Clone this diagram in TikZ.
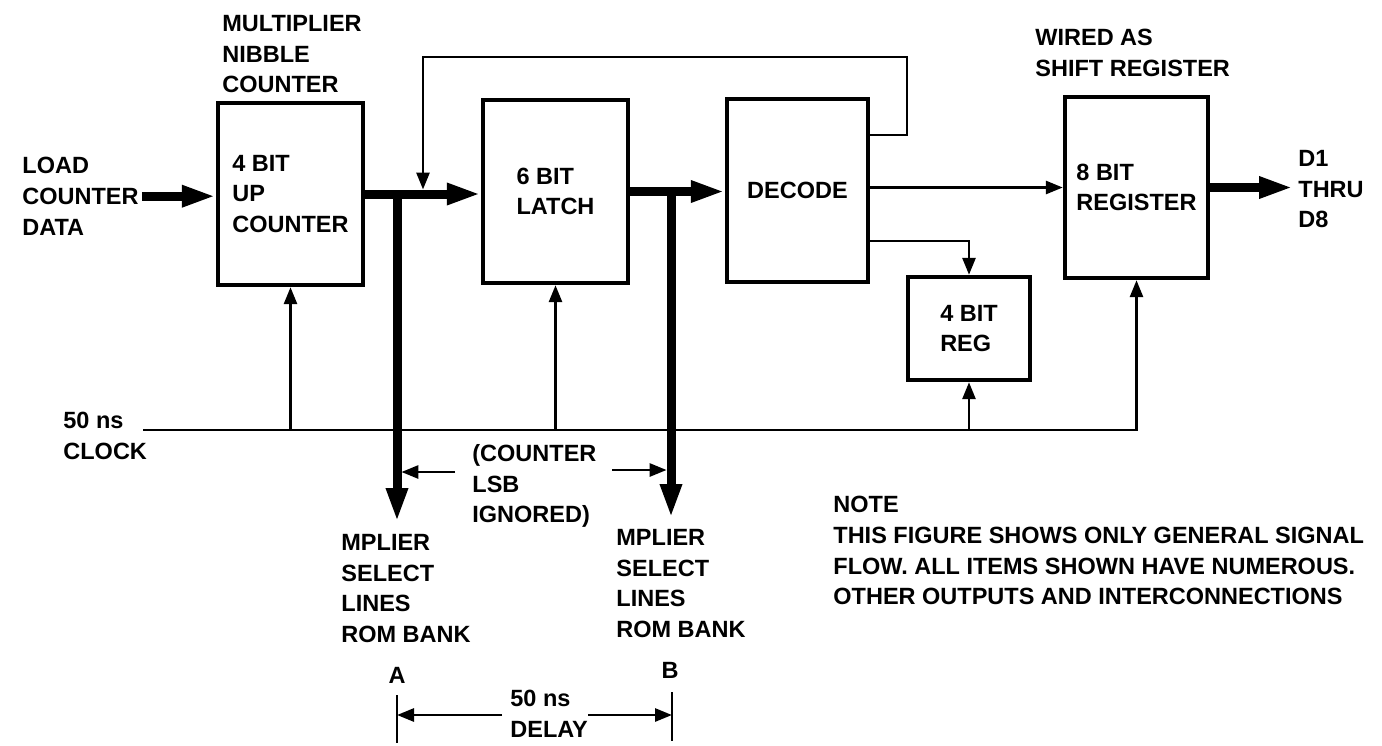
\documentclass[tikz,border=0pt]{standalone}
\usepackage{fontspec}
\setmainfont{Liberation Sans}
\usetikzlibrary{arrows.meta}
\newcommand\lblfont{\fontsize{11.75pt}{15.3pt}\selectfont\bfseries}
\tikzset{
  txt/.style={font=\lblfont, align=left, inner sep=0pt, anchor=north west},
  lbl/.style={font=\lblfont, inner sep=0pt},
  blockbox/.style={draw, line width=2.2pt, inner sep=0pt, align=left, font=\lblfont},
  sig/.style={line width=1.4pt},
  bus/.style={line width=4.5pt},
  sigtip/.style={-{Triangle[length=8.5pt,width=6.5pt]}},
  bustip/.style={-{Triangle[length=17pt,width=10pt]}},
}
\begin{document}
\begin{tikzpicture}[x=0.5pt,y=-0.5pt]
\fill[white] (0,0) rectangle (1382,745);
\useasboundingbox (0,0) rectangle (1382,745);

% blocks
\node[blockbox, minimum width=72.5pt, minimum height=91pt] (b1) at (290.5,194) {4 BIT\\UP\\COUNTER};
\node[blockbox, minimum width=72.5pt, minimum height=91.5pt] (b2) at (555.5,191.5) {6 BIT\\LATCH};
\node[blockbox, minimum width=70.5pt, minimum height=91.5pt] (dec) at (797.5,190.5) {DECODE};
\node[blockbox, minimum width=61pt, minimum height=51.5pt] (r4) at (969,328.5) {4 BIT\\REG};
\node[blockbox, minimum width=71.5pt, minimum height=90.5pt] (r8) at (1136.5,187.5) {8 BIT\\REGISTER};

% labels
\node[txt] (mult) at (222,15) {MULTIPLIER\\NIBBLE\\COUNTER};
\node[txt] (load) at (22,157) {LOAD\\COUNTER\\DATA};
\node[txt] (clk) at (63,412) {50 ns\\CLOCK};
\node[txt] (wired) at (1035,29) {WIRED AS\\SHIFT REGISTER};
\node[txt] (dout) at (1298,150) {D1\\THRU\\D8};
\node[txt] (lsb) at (472,444) {(COUNTER\\LSB\\IGNORED)};
\node[txt] (selA) at (341,534) {MPLIER\\SELECT\\LINES\\ROM BANK};
\node[txt] (selB) at (616,529) {MPLIER\\SELECT\\LINES\\ROM BANK};
\node[lbl] (lblA) at (397,675) {A};
\node[lbl] (lblB) at (670,670) {B};
\node[txt] (delay) at (510,690) {50 ns\\DELAY};
\node[txt] (note) at (833,496) {NOTE\\THIS FIGURE SHOWS ONLY GENERAL SIGNAL\\FLOW. ALL ITEMS SHOWN HAVE NUMEROUS.\\OTHER OUTPUTS AND INTERCONNECTIONS};

% coordinates
\coordinate (tapA) at (397,194);
\coordinate (outA) at (397,522);
\coordinate (tapB) at (671,191.5);
\coordinate (outB) at (671,518);
\coordinate (fbR) at (907,135);
\coordinate (fbT) at (907,57);
\coordinate (fbL) at (423,57);
\coordinate (fbIn) at (423,189.5);
\coordinate (d4) at (969,241);
\coordinate (clkL) at (143,430);
\coordinate (dtip) at (1293,185);
\coordinate (lsbL) at (455,472);
\coordinate (lsbR) at (612,470);
\coordinate (dA1) at (397,695);
\coordinate (dA2) at (397,743);
\coordinate (dB1) at (672,692);
\coordinate (dB2) at (672,741);
\coordinate (dimL) at (502,715);
\coordinate (dimR) at (588,715);

% buses
\draw[bus, bustip] ([xshift=1.5pt]load.east) -- (load.east -| b1.west);
\draw[bus, bustip] (b1.east) -- (b1.east -| b2.west);
\draw[bus, bustip] (tapA) -- (outA);
\draw[bus, bustip] (b2.east) -- (b2.east -| dec.west);
\draw[bus, bustip] (tapB) -- (outB);
\draw[bus, bustip] (r8.east) -- (r8.east -| dtip);

% signals
\draw[sig, sigtip] (fbR -| dec.east) -- (fbR) -- (fbT) -- (fbL) -- (fbIn);
\draw[sig, sigtip] (dec.east |- r8.west) -- (r8.west);
\draw[sig, sigtip] (d4 -| dec.east) -- (d4) -- (r4.north);

% clock
\draw[sig, sigtip] (clkL) -- (clkL -| r8.south) -- (r8.south);
\draw[sig, sigtip] (clkL -| b1.south) -- (b1.south);
\draw[sig, sigtip] (clkL -| b2.south) -- (b2.south);
\draw[sig, sigtip] (clkL -| r4.south) -- (r4.south);

% LSB arrows
\draw[sig, sigtip] (lsbL) -- ([xshift=2.2pt]lsbL -| outA);
\draw[sig, sigtip] (lsbR) -- ([xshift=-2.2pt]lsbR -| outB);

% delay dimension
\draw[sig] (dA1) -- (dA2);
\draw[sig] (dB1) -- (dB2);
\draw[sig, sigtip] (dimL) -- (dimL -| dA1);
\draw[sig, sigtip] (dimR) -- (dimR -| dB1);
\end{tikzpicture}
\end{document}
